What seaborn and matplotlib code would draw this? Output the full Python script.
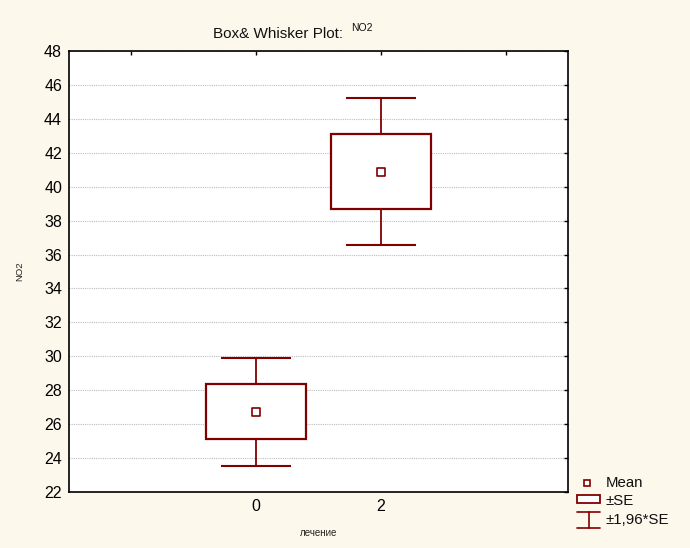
import matplotlib
matplotlib.use("Agg")
import matplotlib.pyplot as plt
from matplotlib.patches import Rectangle
from matplotlib.lines import Line2D
import numpy as np
import pandas as pd
import seaborn as sns

# values
groups = ["0", "2"]
means = [26.73, 40.88]
se = [1.62, 2.21]
y_ticks = list(range(22, 50, 2))

dark_red = "#800000"
bg = "#fdf8ec"

sns.set_theme(style="white")
plt.rcParams["font.family"] = ["Liberation Sans", "DejaVu Sans"]

df = pd.DataFrame({"group": groups, "pos": np.arange(len(groups)),
                   "mean": means, "se": se})
df["ci"] = 1.96 * df["se"]

fig = plt.figure(figsize=(6.9, 5.48), dpi=100, facecolor=bg)
ax = fig.add_axes([0.1, 0.1022, 0.723, 0.8047])
ax.set_facecolor("white")

# whiskers (+-1.96*SE)
ax.errorbar(df["pos"], df["mean"], yerr=df["ci"], fmt="none",
            ecolor=dark_red, elinewidth=1.3, capsize=25, capthick=1.5,
            zorder=2)
# boxes (+-SE)
box_w = 0.8
for _, r in df.iterrows():
    ax.add_patch(Rectangle((r["pos"] - box_w / 2, r["mean"] - r["se"]),
                           box_w, 2 * r["se"], facecolor="white",
                           edgecolor=dark_red, lw=1.6, zorder=3))
# means
sns.scatterplot(data=df, x="pos", y="mean", marker="s", s=30,
                facecolor="white", edgecolor=dark_red, linewidth=1.2,
                zorder=4, ax=ax, legend=False)

ax.set_xlim(-1.5, 2.5)
ax.set_ylim(22, 48)
ax.set_xticks([-1, 0, 1, 2])
ax.set_xticklabels([""] + groups + [""])
ax.set_yticks(y_ticks)
ax.grid(axis="y", color="#bdbdbd", linestyle=(0, (1, 1)), linewidth=0.8,
        zorder=0)
ax.set_axisbelow(True)
ax.tick_params(direction="in", length=3, width=1, color="black",
               top=True, right=True, labelsize=11.5, labelcolor="black",
               pad=5)
for sp in ax.spines.values():
    sp.set_color("black")
    sp.set_linewidth(1.2)

ax.set_xlabel("лечение", fontsize=7, color="#222222", labelpad=10)
ax.set_ylabel("NO2", fontsize=6.8, color="#222222", labelpad=14)

# title with superscript
fig.text(213 / 690, 1 - 34 / 548, "Box& Whisker Plot:", fontsize=11,
         va="center", ha="left", color="#111111")
fig.text(351 / 690, 1 - 28 / 548, "NO2", fontsize=7.5, va="center",
         ha="left", color="#111111")

# legend drawn in figure pixel space
def fx(px):
    return px / 690

def fy(py):
    return 1 - py / 548

fig.add_artist(Line2D([fx(587)], [fy(483)], marker="s", markersize=5,
                      markerfacecolor="white", markeredgecolor=dark_red,
                      markeredgewidth=1.2, transform=fig.transFigure))
fig.add_artist(Rectangle((fx(577), fy(503)), fx(600) - fx(577),
                         fy(495) - fy(503), facecolor="white",
                         edgecolor=dark_red, lw=1.3,
                         transform=fig.transFigure))
for seg in [([577, 600], [512, 512]), ([577, 600], [528, 528]),
            ([588.5, 588.5], [512, 528])]:
    fig.add_artist(Line2D([fx(v) for v in seg[0]], [fy(v) for v in seg[1]],
                          color=dark_red, lw=1.2, transform=fig.transFigure))
for txt, py in [("Mean", 483), ("±SE", 501), ("±1,96*SE", 520)]:
    fig.text(fx(606), fy(py), txt, fontsize=10.8, va="center", ha="left",
             color="#111111")

fig.savefig("out.png", dpi=100, facecolor=bg)
